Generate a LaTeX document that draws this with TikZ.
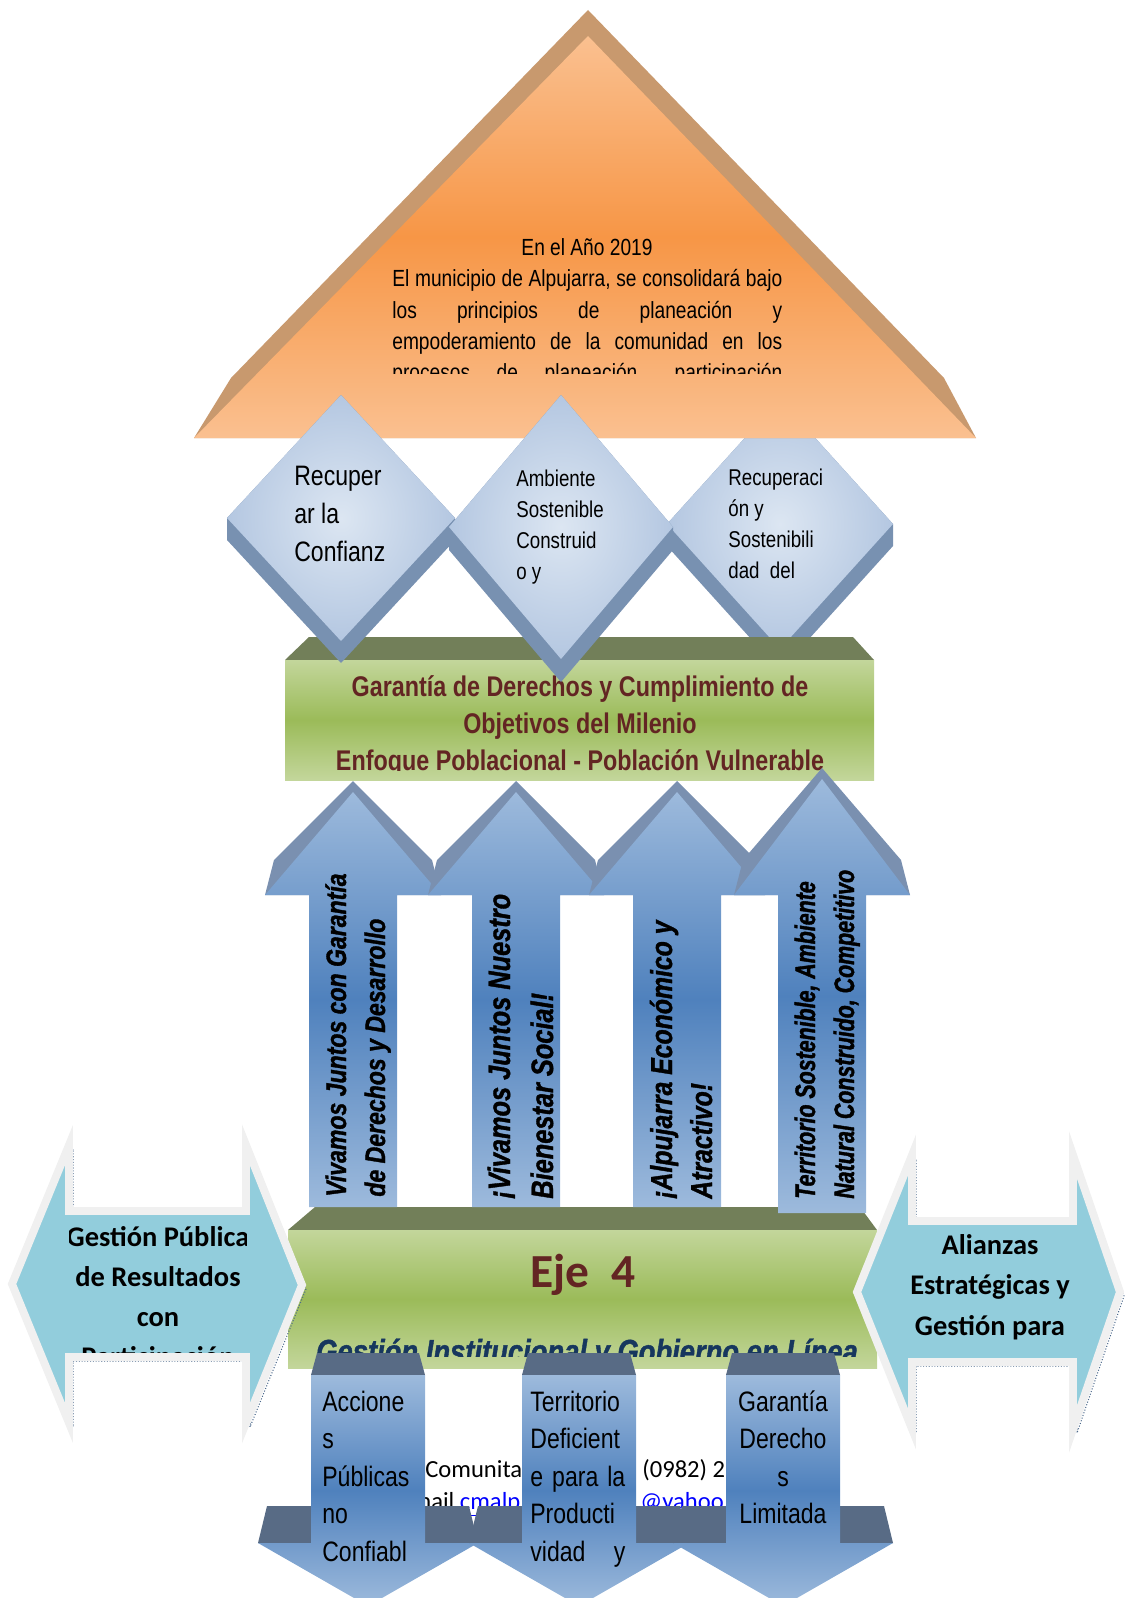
\documentclass[tikz,border=0pt]{standalone}
\usepackage{fontspec}
\setmainfont{Liberation Sans}
\newfontfamily\narrowfont{Liberation Sans}[FakeStretch=0.82]
\newfontfamily\heavyfont{Liberation Sans}[FakeStretch=0.82, FakeBold=1.2]
\newfontfamily\condfont{Liberation Sans}[FakeStretch=0.76, FakeBold=1.4]
\newfontfamily\calibrifont{Carlito}

\definecolor{pyrbrown}{HTML}{C8996E}
\definecolor{pyrlight}{HTML}{FAC090}
\definecolor{pyrorange}{HTML}{F79646}
\definecolor{gemdark}{HTML}{7891B1}
\definecolor{gemlight}{HTML}{DCE6F2}
\definecolor{gemblue}{HTML}{B4C7E1}
\definecolor{bartop}{HTML}{727F59}
\definecolor{barlight}{HTML}{C3D69B}
\definecolor{barmid}{HTML}{9BBB59}
\definecolor{barred}{HTML}{632523}
\definecolor{ejeblue}{HTML}{17375E}
\definecolor{arrowdark}{HTML}{7A90B0}
\definecolor{arrowlight}{HTML}{9DBADC}
\definecolor{arrowmid}{HTML}{4F81BD}
\definecolor{capdark}{HTML}{586B85}
\definecolor{sideblue}{HTML}{92CDDC}
\definecolor{sidegray}{HTML}{F0F0F0}
\definecolor{sideshadow}{HTML}{4E6A8C}
\definecolor{linkblue}{HTML}{0000FF}

% rombo con borde oscuro: x centro, y arriba, y lados, semiancho, grosor
\newcommand\gem[5]{%
  \fill[gemdark] (#1,#2) -- ({#1+#4},#3) -- ({#1+#4},{#3+#5}) -- (#1,{2*#3-#2+#5})
    -- ({#1-#4},{#3+#5}) -- ({#1-#4},#3) -- cycle;
  \shade[gemface] (#1,#2) -- ({#1+#4},#3) -- (#1,{2*#3-#2}) -- ({#1-#4},#3) -- cycle;}

% flecha hacia arriba: x centro, y punta, y pie
\newcommand\uparrowblock[3]{%
  \fill[arrowdark] (#1,#2) -- ({#1+79},860) -- ({#1+88},895) -- ({#1-88},895) -- ({#1-79},860) -- cycle;
  \shade[arrowbody] (#1,{#2+11}) -- ({#1+88},895) -- ({#1+44},895) -- ({#1+44},#3)
    -- ({#1-44},#3) -- ({#1-44},895) -- ({#1-88},895) -- cycle;}

% flecha hacia abajo: x centro
\newcommand\downarrowblock[1]{%
  \fill[capdark] ({#1-51},1353) -- ({#1+51},1353) -- ({#1+57},1375) -- ({#1-57},1375) -- cycle;
  \fill[capdark] ({#1-101},1506) -- ({#1+101},1506) -- ({#1+110},1543) -- ({#1-110},1543) -- cycle;
  \shade[arrowbody] ({#1-57},1375) -- ({#1+57},1375) -- ({#1+57},1543) -- ({#1+110},1543)
    -- (#1,1606) -- ({#1-110},1543) -- ({#1-57},1543) -- cycle;}

\def\leftdart{(12,1284) -- (69,1145) -- (69,1211) -- (246,1211) -- (246,1145) -- (302,1285)
  -- (246,1423) -- (246,1357) -- (69,1357) -- (69,1423) -- cycle}
\def\rightdart{(857,1292) -- (912,1155) -- (912,1221) -- (1073,1221) -- (1073,1155) -- (1120,1292)
  -- (1073,1429) -- (1073,1362) -- (912,1362) -- (912,1429) -- cycle}

\begin{document}
\begin{tikzpicture}[x=0.02cm,y=-0.02cm,
  gemface/.style={inner color=gemlight, outer color=gemblue},
  greenface/.style={top color=barlight, bottom color=barlight, middle color=barmid},
  arrowbody/.style={top color=arrowlight, bottom color=arrowlight, middle color=arrowmid},
  word/.style={inner sep=0pt, anchor=base west},
  midword/.style={inner sep=0pt, anchor=base},
  uptext/.style={inner sep=0pt, anchor=base west, rotate=90},
  tritext/.style={font={\narrowfont\fontsize{13.3}{16}\selectfont}},
  gembig/.style={font={\narrowfont\fontsize{16}{19}\selectfont}},
  gemsmall/.style={font={\narrowfont\fontsize{13}{16}\selectfont}},
  bartext/.style={text=barred, font={\narrowfont\bfseries\fontsize{16.2}{19}\selectfont}},
  downtext/.style={font={\narrowfont\fontsize{16}{19}\selectfont}},
  bgtext/.style={inner sep=0pt, anchor=base west, font={\calibrifont\fontsize{14}{17}\selectfont}},
  sidetext/.style={inner sep=0pt, anchor=base, font={\calibrifont\bfseries\fontsize{16.2}{19}\selectfont}},
  sidearrow/.style={fill=sideblue, draw=sidegray, line width=4.5pt, miter limit=12},
  sidedots/.style={draw=sideshadow, densely dotted, line width=0.6pt}]

  \useasboundingbox (0,0) rectangle (1125,1598);

  % tercer rombo, detras de la piramide
  \gem{780}{399}{524}{113}{22}
  \foreach \w [count=\i from 0] in {Recuperaci, ón y, Sostenibili, dad\ \ del}
    \node[word, gemsmall] (gemC-\i) at (728,{485+31*\i}) {\w};

  % franja Garantia
  \fill[bartop] (309,637) -- (853,637) -- (874,660) -- (285,660) -- cycle;
  \shade[greenface] (285,660) rectangle (874,780);
  \begin{scope}
    \clip (285,660) rectangle (874,770);
    \foreach \w [count=\i from 0] in {Garantía de Derechos y Cumplimiento de,
        Objetivos del Milenio, Enfoque Poblacional - Población Vulnerable}
      \node[midword, bartext] (gar-\i) at (580,{696+37*\i}) {\w};
  \end{scope}

  % piramide de la vision
  \fill[pyrbrown] (588,10) -- (944,378) -- (976,438) -- (194,438) -- (231,378) -- cycle;
  \shade[top color=pyrlight, bottom color=pyrlight, middle color=pyrorange]
    (588,36) -- (976,438) -- (194,438) -- cycle;
  \node[midword, tritext] (vis-0) at (587,256) {En el Año 2019};
  \begin{scope}
    \clip (380,262) rectangle (800,373);
    \foreach \w [count=\i] in {{El municipio de Alpujarra, se consolidará bajo},
        {los principios de planeación y}, {empoderamiento de la comunidad en los},
        {procesos de planeación, participación}}
      \node[word, tritext] (vis-\i) at (392,{256+31*\i}) {\makebox[7.8cm][s]{\w}};
  \end{scope}

  % rombos delanteros
  \gem{341}{395}{518}{114}{22}
  \foreach \w [count=\i from 0] in {Recuper, ar la, Confianz}
    \node[word, gembig] (gemA-\i) at (294,{485+38*\i}) {\w};
  \gem{561}{395}{527}{112}{23}
  \foreach \w [count=\i from 0] in {Ambiente, Sostenible, Construid, o y}
    \node[word, gemsmall] (gemB-\i) at (516,{486+31*\i}) {\w};

  % franja Eje 4
  \fill[bartop] (315,1207) -- (860,1207) -- (877,1230) -- (288,1230) -- cycle;
  \shade[greenface] (288,1230) rectangle (877,1368);
  \node[midword, text=barred, font={\calibrifont\bfseries\fontsize{27}{30}\selectfont}]
    (eje) at (583,1287) {Eje~~4};
  \begin{scope}
    \clip (288,1230) rectangle (877,1356);
    \node[midword, text=ejeblue, font={\heavyfont\bfseries\itshape\fontsize{19}{22}\selectfont}]
      (ejesub) at (587,1363) {Gestión Institucional y Gobierno en Línea};
  \end{scope}

  % flechas hacia arriba
  \uparrowblock{353}{781}{1207}
  \uparrowblock{516}{781}{1207}
  \uparrowblock{677}{781}{1207}
  \uparrowblock{822}{768}{1213}
  \begin{scope}[font={\heavyfont\bfseries\itshape\fontsize{16}{19}\selectfont}]
    \node[uptext] (up1-a) at (346,1197) {Vivamos Juntos con Garantía};
    \node[uptext] (up1-b) at (385,1197) {de Derechos y Desarrollo};
  \end{scope}
  \begin{scope}[font={\heavyfont\bfseries\itshape\fontsize{17.6}{21}\selectfont}]
    \node[uptext] (up2-a) at (510,1199) {¡Vivamos Juntos Nuestro};
    \node[uptext] (up2-b) at (553,1199) {Bienestar Social!};
  \end{scope}
  \begin{scope}[font={\heavyfont\bfseries\itshape\fontsize{17.2}{21}\selectfont}]
    \node[uptext] (up3-a) at (672,1199) {¡Alpujarra Económico y};
    \node[uptext] (up3-b) at (712,1199) {Atractivo!};
  \end{scope}
  \begin{scope}[font={\condfont\bfseries\itshape\fontsize{16}{19}\selectfont}]
    \node[uptext] (up4-a) at (815,1199) {Territorio Sostenible, Ambiente};
    \node[uptext] (up4-b) at (854,1199) {Natural Construido, Competitivo};
  \end{scope}

  % texto de la hoja, debajo
  \node[bgtext] (tel-a) at (425,1477) {Comunita};
  \node[bgtext] (tel-b) at (642,1477) {(0982) 2};
  \node[bgtext] (mail-a) at (418,1509) {nail \textcolor{linkblue}{\underline{cmalp}}};
  \node[bgtext] (mail-b) at (640,1509) {\textcolor{linkblue}{\underline{@yahoo.e}}};

  % flechas hacia abajo
  \downarrowblock{368}
  \downarrowblock{579}
  \downarrowblock{783}
  \foreach \w [count=\i from 0] in {Accione, s, Públicas, no, Confiabl}
    \node[word, downtext] (dnA-\i) at (322,{1411+37.5*\i}) {\w};
  \foreach \w [count=\i from 0] in {Territorio, Deficient, \makebox[1.9cm][s]{e para la},
      Producti, \makebox[1.9cm][s]{vidad y}}
    \node[word, downtext] (dnB-\i) at (530,{1411+37.5*\i}) {\w};
  \foreach \w [count=\i from 0] in {Garantía, Derecho, s, Limitada}
    \node[midword, downtext] (dnC-\i) at (783,{1411+37.5*\i}) {\w};

  % flechas laterales
  \draw[sidedots, shift={(4,4)}] \leftdart;
  \draw[sidearrow] \leftdart;
  \begin{scope}
    \clip (69,1211) rectangle (246,1352);
    \foreach \w [count=\i from 0] in {Gestión Pública, de Resultados, con, Participación}
      \node[sidetext] (gpr-\i) at (158,{1246+40*\i}) {\w};
  \end{scope}
  \draw[sidedots, shift={(4,4)}] \rightdart;
  \draw[sidearrow] \rightdart;
  \foreach \w [count=\i from 0] in {Alianzas, Estratégicas y, Gestión para}
    \node[sidetext] (ali-\i) at (990,{1254+40.5*\i}) {\w};
\end{tikzpicture}
\end{document}
